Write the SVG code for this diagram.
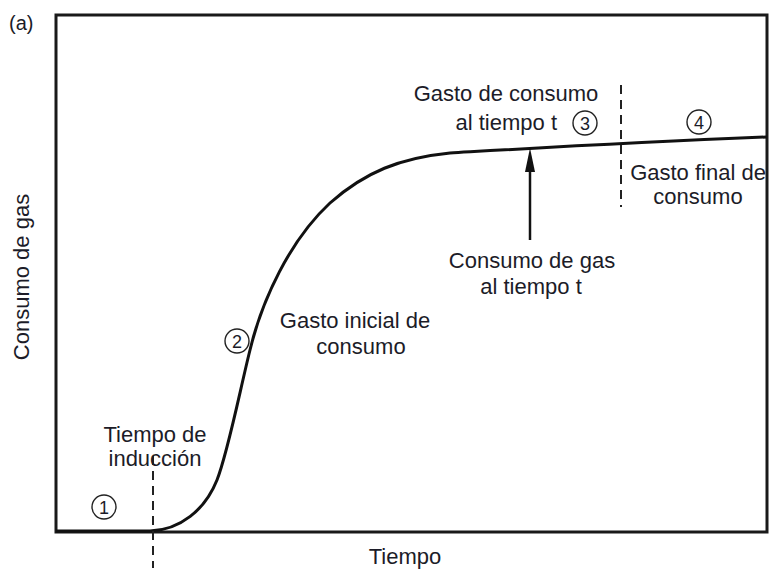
<svg xmlns="http://www.w3.org/2000/svg" width="769" height="571" viewBox="0 0 769 571">
<style>
text{font-family:"Liberation Sans",Arial,sans-serif;font-size:22px;fill:#1c1c28}
.num{font-size:18px;text-anchor:middle}
.c{fill:none;stroke:#222;stroke-width:1.4}
.dash{stroke:#222;stroke-width:2;stroke-dasharray:9,6;fill:none}
</style>
<rect width="769" height="571" fill="#fff"/>
<g id="frame">
<path d="M56,532 L56,15 L767,15 L767,532 Z" fill="none" stroke="#1a1a1a" stroke-width="3"/>
</g>
<g id="curve">
<path d="M56,531 L150,531 C180,530 205,510 217,480 C228,452 240,390 250,350 C262,300 290,240 330,203 C365,172 400,158 450,153 C520,149 620,143 767,137" fill="none" stroke="#111" stroke-width="3"/>
</g>
<g id="connectors">
<line class="dash" x1="153" y1="456" x2="153" y2="568"/>
<line class="dash" x1="621" y1="85" x2="621" y2="207"/>
<line x1="530" y1="240" x2="530" y2="172" stroke="#111" stroke-width="2.5"/>
<path d="M525,172 L530,148 L535,172 Z" fill="#111"/>
</g>
<g id="label-a"><text x="9" y="30" style="font-size:20px">(a)</text></g>
<g id="axis-y"><text transform="translate(29,277) rotate(-90)" text-anchor="middle">Consumo de gas</text></g>
<g id="axis-x"><text x="405" y="564" text-anchor="middle">Tiempo</text></g>
<g id="n1"><circle class="c" cx="104" cy="507" r="12"/><text class="num" x="104" y="513.5">1</text></g>
<g id="n2"><circle class="c" cx="237" cy="341" r="12"/><text class="num" x="237" y="347.5">2</text></g>
<g id="n3"><circle class="c" cx="585" cy="123" r="12"/><text class="num" x="585" y="129.5">3</text></g>
<g id="n4"><circle class="c" cx="699" cy="122" r="12"/><text class="num" x="699" y="128.5">4</text></g>
<g id="induccion"><text x="155" y="442" text-anchor="middle">Tiempo de</text><text x="155" y="466" text-anchor="middle">inducción</text></g>
<g id="inicial"><text x="355" y="328" text-anchor="middle">Gasto inicial de</text><text x="361" y="354" text-anchor="middle">consumo</text></g>
<g id="gasto-t"><text x="506" y="101" text-anchor="middle">Gasto de consumo</text><text x="557" y="130" text-anchor="end">al tiempo t</text></g>
<g id="consumo-t"><text x="532" y="268" text-anchor="middle">Consumo de gas</text><text x="531" y="294" text-anchor="middle">al tiempo t</text></g>
<g id="final"><text x="698" y="180" text-anchor="middle">Gasto final de</text><text x="698" y="204" text-anchor="middle">consumo</text></g>
</svg>
